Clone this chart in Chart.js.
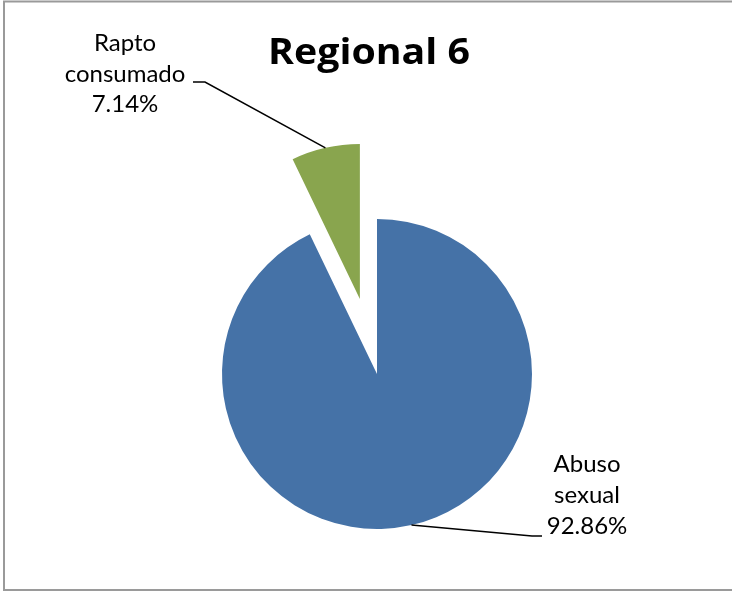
<!DOCTYPE html>
<html>
<head>
<meta charset="utf-8">
<script src="https://cdn.jsdelivr.net/npm/chart.js@4/dist/chart.umd.min.js"></script>
<style>
  html, body { margin: 0; padding: 0; background: #ffffff; }
  #wrap { width: 732px; height: 592px; position: relative; }
  canvas { display: block; }
</style>
</head>
<body>
<div id="wrap"><canvas id="c" width="732" height="592"></canvas></div>
<script>
// ---- data ----
const chartTitle = 'Regional 6';
const categories = ['Abuso sexual', 'Rapto consumado'];
const values = [92.86, 7.14];
const percentLabels = ['92.86%', '7.14%'];

// ---- style ----
const sliceColors = ['#4572A7', '#89A54E'];
const explodePx = [0, 77];
const labelFont = '24px Lato';
const titleFont = 'bold 36px "Open Sans"';
const titleBox = { left: 268, width: 202, baseline: 64 };
const labelStyle = [
  { cx: 587, baseline: 472, lineH: 31, elbow: [532, 536], end: [542, 536] },
  { cx: 125, baseline: 51, lineH: 30.5, elbow: [205, 82], end: [193, 82] }
];

const explodePlugin = {
  id: 'explode',
  afterDatasetUpdate(chart, args) {
    args.meta.data.forEach((arc, i) => {
      const d = explodePx[i] || 0;
      if (!d) return;
      const mid = (arc.startAngle + arc.endAngle) / 2;
      arc.x += Math.cos(mid) * d;
      arc.y += Math.sin(mid) * d;
    });
  }
};

const decorPlugin = {
  id: 'decor',
  beforeDraw(chart) {
    const ctx = chart.ctx;
    ctx.save();
    ctx.fillStyle = '#ffffff';
    ctx.fillRect(0, 0, chart.width, chart.height);
    ctx.strokeStyle = '#9a9a9a';
    ctx.lineWidth = 2;
    ctx.strokeRect(4, 1.5, 760, 588.5);
    ctx.restore();
  },
  afterDraw(chart) {
    const ctx = chart.ctx;
    const meta = chart.getDatasetMeta(0);
    ctx.save();
    // title (horizontally fitted to the reference width)
    ctx.fillStyle = '#000000';
    ctx.font = titleFont;
    ctx.textAlign = 'left';
    ctx.textBaseline = 'alphabetic';
    const w = ctx.measureText(chartTitle).width;
    ctx.save();
    ctx.translate(titleBox.left, titleBox.baseline);
    ctx.scale(titleBox.width / w, 1);
    ctx.fillText(chartTitle, 0, 0);
    ctx.restore();
    // labels + leader lines
    ctx.font = labelFont;
    ctx.textAlign = 'center';
    meta.data.forEach((arc, i) => {
      const st = labelStyle[i];
      const lines = categories[i].split(' ').concat([percentLabels[i]]);
      lines.forEach((t, k) => ctx.fillText(t, st.cx, st.baseline + k * st.lineH));
      const mid = (arc.startAngle + arc.endAngle) / 2;
      const px = arc.x + Math.cos(mid) * arc.outerRadius;
      const py = arc.y + Math.sin(mid) * arc.outerRadius;
      ctx.beginPath();
      ctx.strokeStyle = '#000000';
      ctx.lineWidth = 1.5;
      ctx.moveTo(px, py);
      ctx.lineTo(st.elbow[0], st.elbow[1]);
      ctx.lineTo(st.end[0], st.end[1]);
      ctx.stroke();
    });
    ctx.restore();
  }
};

new Chart(document.getElementById('c'), {
  type: 'pie',
  data: {
    labels: categories,
    datasets: [{
      data: values,
      backgroundColor: sliceColors,
      borderWidth: 0,
      radius: 155
    }]
  },
  options: {
    responsive: false,
    devicePixelRatio: 1,
    animation: false,
    events: [],
    layout: { padding: { left: 22, right: 0, top: 156, bottom: 0 } },
    plugins: {
      legend: { display: false },
      title: { display: false },
      tooltip: { enabled: false }
    }
  },
  plugins: [explodePlugin, decorPlugin]
});
</script>
</body>
</html>
